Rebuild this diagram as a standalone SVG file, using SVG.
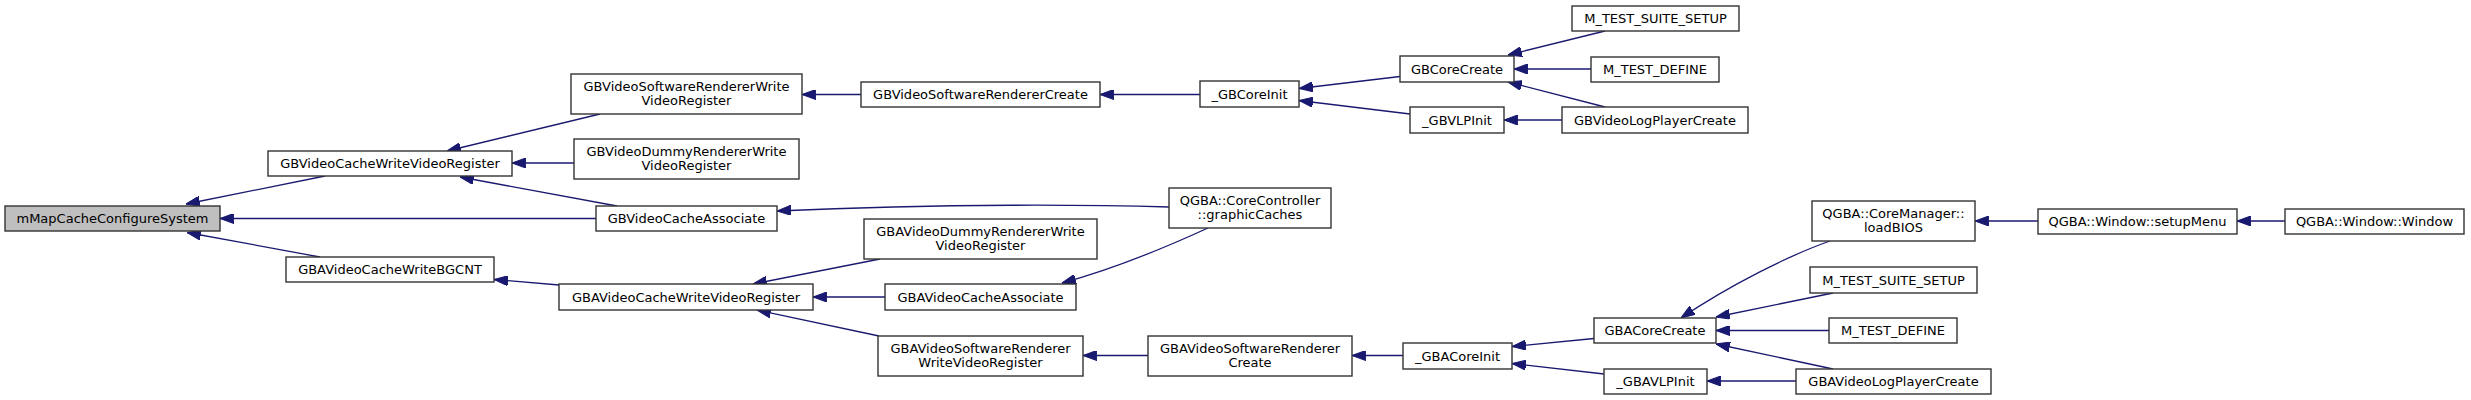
<svg xmlns="http://www.w3.org/2000/svg" width="2471" height="400" viewBox="0 0 2471 400">
<style>
.n rect{fill:#ffffff;stroke:#333333;stroke-width:1.4}
.n.root rect{fill:#bfbfbf}
.n text{font-family:"DejaVu Sans",sans-serif;font-size:13px;fill:#000;text-anchor:middle}
.e path{fill:none;stroke:#191970;stroke-width:1.3;marker-end:url(#ah)}
</style>
<defs>
<marker id="ah" markerUnits="userSpaceOnUse" markerWidth="14" markerHeight="10" viewBox="0 0 13 9.4" refX="13" refY="4.7" orient="auto">
<path d="M0,0 L13,4.7 L0,9.4 z" fill="#191970" stroke="#191970" stroke-width="1"/>
</marker>
</defs>
<rect width="2471" height="400" fill="#ffffff"/>
<g id="edges" class="e">
<path d="M325,176 L186,204"/>
<path d="M596,218.5 L220,218.5"/>
<path d="M320,257 L187,232.5"/>
<path d="M600,114 L447,151"/>
<path d="M574,163 L512,163"/>
<path d="M617,206 L460,177"/>
<path d="M861,94.5 L802,94.5"/>
<path d="M1200,94.5 L1100,94.5"/>
<path d="M1400,76.5 L1299,88.5"/>
<path d="M1410,114 L1299,100.5"/>
<path d="M1605,31 L1508,55"/>
<path d="M1591,69 L1514,69"/>
<path d="M1605,107 L1508,82"/>
<path d="M1562,120 L1504,120"/>
<path d="M1169,207 C1100,205 950,203 777,211"/>
<path d="M1208,228 C1160,250 1110,270 1062,283"/>
<path d="M559,285 L494,279.5"/>
<path d="M880,259 L753,284"/>
<path d="M885,297 L813,297"/>
<path d="M879,336 L757,310"/>
<path d="M1148,355.5 L1083,355.5"/>
<path d="M1403,355.5 L1352,355.5"/>
<path d="M1594,338.5 L1512,346.5"/>
<path d="M1604,374 L1512,363.5"/>
<path d="M1830,241 C1790,255 1730,285 1681,318"/>
<path d="M1833,293 L1716,317"/>
<path d="M1829,330.5 L1716,330.5"/>
<path d="M1833,369 L1716,344"/>
<path d="M1796,381 L1707,381"/>
<path d="M2038,221 L1975,221"/>
<path d="M2285,221 L2237,221"/>
</g>
<g id="n_mMapCacheConfigureSystem" class="n root"><rect x="5" y="206" width="215" height="25"/><text x="112.5" y="223">mMapCacheConfigureSystem</text></g>
<g id="n_GBVideoCacheWriteVideoRegister" class="n"><rect x="268" y="151" width="244" height="25"/><text x="390" y="168">GBVideoCacheWriteVideoRegister</text></g>
<g id="n_GBAVideoCacheWriteBGCNT" class="n"><rect x="286" y="257" width="208" height="25"/><text x="390" y="274">GBAVideoCacheWriteBGCNT</text></g>
<g id="n_GBVideoSoftwareRendererWriteVideoRegister" class="n"><rect x="571" y="74" width="231" height="40"/><text x="686.5" y="90.5">GBVideoSoftwareRendererWrite</text><text x="686.5" y="105">VideoRegister</text></g>
<g id="n_GBVideoDummyRendererWriteVideoRegister" class="n"><rect x="574" y="139" width="225" height="40"/><text x="686.5" y="155.5">GBVideoDummyRendererWrite</text><text x="686.5" y="170">VideoRegister</text></g>
<g id="n_GBVideoCacheAssociate" class="n"><rect x="596" y="206" width="181" height="25"/><text x="686.5" y="223">GBVideoCacheAssociate</text></g>
<g id="n_GBAVideoCacheWriteVideoRegister" class="n"><rect x="559" y="284" width="254" height="26"/><text x="686" y="301.5">GBAVideoCacheWriteVideoRegister</text></g>
<g id="n_GBVideoSoftwareRendererCreate" class="n"><rect x="861" y="82" width="239" height="25"/><text x="980.5" y="99">GBVideoSoftwareRendererCreate</text></g>
<g id="n_GBAVideoDummyRendererWriteVideoRegister" class="n"><rect x="864" y="219" width="233" height="40"/><text x="980.5" y="235.5">GBAVideoDummyRendererWrite</text><text x="980.5" y="250">VideoRegister</text></g>
<g id="n_GBAVideoCacheAssociate" class="n"><rect x="885" y="284" width="191" height="26"/><text x="980.5" y="301.5">GBAVideoCacheAssociate</text></g>
<g id="n_GBAVideoSoftwareRendererWriteVideoRegister" class="n"><rect x="878" y="336" width="205" height="40"/><text x="980.5" y="352.5">GBAVideoSoftwareRenderer</text><text x="980.5" y="367">WriteVideoRegister</text></g>
<g id="n_GBCoreInit" class="n"><rect x="1200" y="81" width="99" height="26"/><text x="1249.5" y="98.5">_GBCoreInit</text></g>
<g id="n_graphicCaches" class="n"><rect x="1169" y="188" width="162" height="40"/><text x="1250" y="204.5">QGBA::CoreController</text><text x="1250" y="219">::graphicCaches</text></g>
<g id="n_GBAVideoSoftwareRendererCreate" class="n"><rect x="1148" y="336" width="204" height="40"/><text x="1250" y="352.5">GBAVideoSoftwareRenderer</text><text x="1250" y="367">Create</text></g>
<g id="n_GBCoreCreate" class="n"><rect x="1400" y="56" width="114" height="26"/><text x="1457" y="73.5">GBCoreCreate</text></g>
<g id="n_GBVLPInit" class="n"><rect x="1410" y="107" width="94" height="26"/><text x="1457" y="124.5">_GBVLPInit</text></g>
<g id="n_GBACoreInit" class="n"><rect x="1403" y="343" width="109" height="26"/><text x="1457.5" y="360.5">_GBACoreInit</text></g>
<g id="n_GB_M_TEST_SUITE_SETUP" class="n"><rect x="1572" y="6" width="167" height="25"/><text x="1655.5" y="23">M_TEST_SUITE_SETUP</text></g>
<g id="n_GB_M_TEST_DEFINE" class="n"><rect x="1591" y="57" width="128" height="25"/><text x="1655" y="74">M_TEST_DEFINE</text></g>
<g id="n_GBVideoLogPlayerCreate" class="n"><rect x="1562" y="107" width="186" height="26"/><text x="1655" y="124.5">GBVideoLogPlayerCreate</text></g>
<g id="n_GBACoreCreate" class="n"><rect x="1594" y="318" width="122" height="25"/><text x="1655" y="335">GBACoreCreate</text></g>
<g id="n_GBAVLPInit" class="n"><rect x="1604" y="369" width="103" height="25"/><text x="1655.5" y="386">_GBAVLPInit</text></g>
<g id="n_loadBIOS" class="n"><rect x="1812" y="201" width="163" height="40"/><text x="1893.5" y="217.5">QGBA::CoreManager::</text><text x="1893.5" y="232">loadBIOS</text></g>
<g id="n_GBA_M_TEST_SUITE_SETUP" class="n"><rect x="1810" y="267" width="167" height="26"/><text x="1893.5" y="284.5">M_TEST_SUITE_SETUP</text></g>
<g id="n_GBA_M_TEST_DEFINE" class="n"><rect x="1829" y="318" width="128" height="25"/><text x="1893" y="335">M_TEST_DEFINE</text></g>
<g id="n_GBAVideoLogPlayerCreate" class="n"><rect x="1796" y="369" width="195" height="25"/><text x="1893.5" y="386">GBAVideoLogPlayerCreate</text></g>
<g id="n_setupMenu" class="n"><rect x="2038" y="209" width="199" height="25"/><text x="2137.5" y="226">QGBA::Window::setupMenu</text></g>
<g id="n_Window" class="n"><rect x="2285" y="209" width="179" height="25"/><text x="2374.5" y="226">QGBA::Window::Window</text></g>
</svg>
